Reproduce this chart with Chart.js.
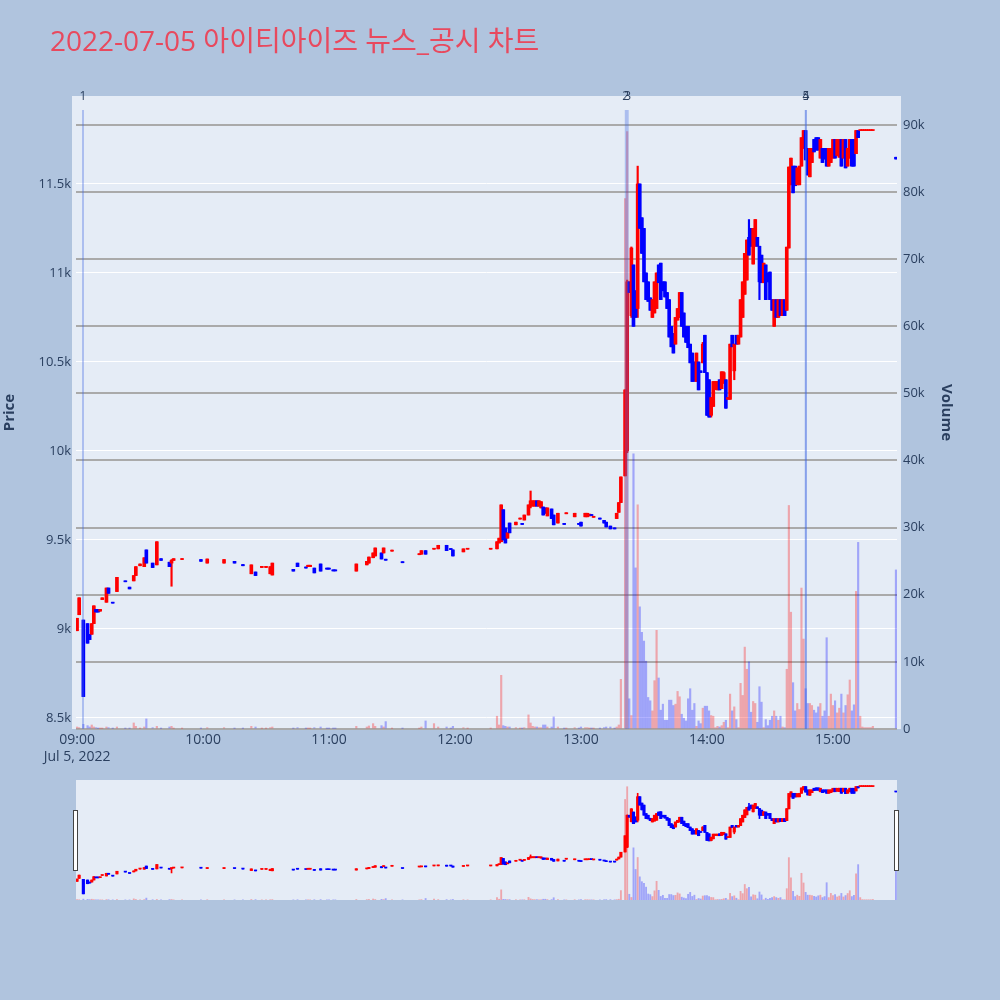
<!DOCTYPE html>
<html>
<head>
<meta charset="utf-8">
<script src="https://cdn.jsdelivr.net/npm/chart.js@4.4.1/dist/chart.umd.min.js"></script>
<style>
  body { margin: 0; background: #b0c4de; }
  #wrap { position: relative; width: 1000px; height: 1000px; }
  #main { position: absolute; left: 0; top: 0; }
  #slider { position: absolute; left: 0; top: 780px; }
</style>
</head>
<body>
<div id="wrap">
  <canvas id="main" width="1000" height="770"></canvas>
  <canvas id="slider" width="1000" height="120"></canvas>
</div>
<script>
// 1-minute candles, minutes counted from 09:00
const minutes = [
  0,1,3,5,6,7,8,9,10,11,12,14,15,17,19,23,25,27,28,30,
  32,33,36,38,40,44,45,46,50,59,62,70,75,79,83,85,88,90,92,93,
  103,105,109,110,111,113,116,119,120,122,123,133,138,139,141,142,145,146,147,150,
  155,163,164,166,170,172,176,178,179,184,186,197,200,201,202,203,204,205,206,209,
  211,212,213,215,216,217,218,219,220,221,222,223,224,226,227,229,232,233,237,239,
  240,242,243,244,245,246,249,251,252,254,256,257,258,259,261,262,263,264,265,266,
  267,268,269,270,271,272,273,274,275,276,277,278,279,280,281,282,283,284,285,286,
  287,288,289,290,291,292,293,294,295,296,297,298,299,300,301,302,303,304,305,306,
  307,308,309,310,311,312,313,314,315,316,317,318,319,320,321,322,323,324,325,326,
  327,328,329,330,331,332,333,334,335,336,337,338,339,340,341,342,343,344,345,346,
  347,348,349,350,351,352,353,354,355,356,357,358,359,360,361,362,363,364,365,366,
  367,368,369,370,371,372,373,374,375,376,377,378,379,
  390
];
const opens = [
  8990,9080,9050,9030,8970,8970,9030,9110,9110,9100,9165,9150,9230,9150,9210,9270,9235,9270,9300,9355,
  9350,9444,9370,9360,9395,9375,9370,9385,9390,9390,9370,9370,9380,9362,9310,9320,9345,9345,9310,9303,
  9335,9370,9348,9350,9350,9342,9365,9342,9342,9332,9332,9325,9360,9370,9400,9410,9427,9427,9392,9437,
  9378,9417,9420,9440,9448,9450,9470,9452,9444,9433,9448,9448,9450,9483,9490,9670,9567,9510,9595,9585,
  9617,9593,9612,9640,9690,9690,9690,9720,9690,9680,9685,9680,9635,9674,9640,9595,9593,9647,9630,9593,
  9600,9630,9630,9635,9643,9627,9623,9610,9600,9578,9568,9620,9655,9710,9860,10000,10950,10760,11045,10900,
  10800,11500,11310,11250,11000,10950,10860,10750,10775,10800,11045,11055,10950,10950,10890,10850,10700,10660,10600,10735,
  10750,10890,10775,10700,10700,10600,10550,10500,10390,10500,10450,10495,10650,10440,10400,10200,10250,10345,10343,10400,
  10350,10380,10400,10290,10290,10650,10450,10650,10600,10640,10750,10880,10960,11200,11250,11050,11150,11200,11150,11100,
  10945,11045,11000,11005,10850,10700,10850,10750,10850,10760,10850,10790,11140,11495,11600,11600,11495,11495,11600,11700,
  11800,11700,11540,11620,11750,11760,11760,11645,11700,11700,11700,11600,11620,11645,11750,11660,11650,11750,11645,11750,
  11600,11645,11750,11750,11670,11800,11800,11800,11800,11800,11800,11800,11800,
  11650
];
const highs = [
  9060,9175,9050,9030,8970,9030,9130,9110,9110,9110,9175,9230,9230,9150,9290,9270,9235,9300,9350,9365,
  9400,9444,9370,9490,9395,9375,9390,9395,9395,9390,9393,9390,9380,9362,9360,9320,9352,9352,9350,9370,
  9335,9370,9348,9358,9358,9342,9365,9342,9342,9332,9332,9365,9380,9404,9427,9455,9427,9455,9392,9443,
  9378,9423,9440,9440,9453,9470,9470,9452,9444,9450,9452,9452,9490,9510,9697,9670,9567,9540,9595,9600,
  9623,9593,9640,9697,9775,9720,9720,9720,9720,9715,9685,9680,9680,9674,9640,9650,9593,9653,9650,9593,
  9600,9650,9650,9645,9643,9633,9623,9610,9600,9578,9568,9650,9710,9854,10343,10960,10950,11146,11045,10900,
  11600,11500,11310,11250,11000,10950,10860,10850,10950,11000,11045,11055,10950,10950,10890,10850,10700,10660,10750,10800,
  10890,10890,10775,10700,10700,10600,10550,10500,10550,10500,10450,10610,10650,10440,10400,10300,10390,10390,10390,10400,
  10445,10445,10400,10300,10600,10650,10600,10650,10650,10850,10950,11110,11185,11300,11250,11250,11300,11200,11150,11100,
  11055,11045,11000,11005,10850,10850,10850,10850,10850,10850,10850,11145,11595,11645,11600,11600,11590,11600,11760,11800,
  11800,11700,11700,11700,11750,11760,11760,11750,11700,11700,11700,11700,11700,11750,11750,11750,11750,11750,11750,11750,
  11700,11750,11750,11750,11800,11800,11800,11800,11800,11800,11800,11800,11800,
  11650
];
const lows = [
  8990,9080,8620,8920,8940,8970,9030,9095,9095,9100,9165,9150,9200,9145,9210,9265,9225,9270,9300,9355,
  9350,9370,9345,9360,9385,9350,9240,9385,9390,9380,9370,9370,9370,9355,9310,9300,9345,9345,9310,9303,
  9325,9350,9342,9350,9350,9315,9325,9336,9336,9326,9326,9325,9360,9370,9400,9410,9393,9427,9386,9437,
  9372,9417,9420,9420,9448,9450,9440,9446,9410,9433,9448,9448,9450,9483,9490,9500,9483,9510,9540,9585,
  9617,9587,9612,9640,9680,9690,9690,9690,9690,9680,9640,9650,9635,9620,9585,9595,9587,9647,9630,9587,
  9578,9630,9630,9635,9637,9627,9617,9595,9573,9562,9562,9620,9655,9710,9860,9990,10890,10750,10700,10750,
  10750,11250,11110,10950,10850,10840,10790,10750,10775,10800,10945,10850,10900,10865,10800,10640,10585,10550,10600,10735,
  10750,10700,10640,10610,10580,10495,10390,10390,10390,10343,10440,10495,10440,10200,10190,10190,10250,10345,10343,10343,
  10350,10380,10240,10290,10290,10585,10400,10600,10600,10640,10750,10880,10960,11100,11150,11050,11150,11150,10850,10945,
  10945,10850,10950,10850,10790,10700,10750,10750,10760,10760,10760,10790,11140,11495,11450,11490,11495,11495,11600,11700,
  11635,11550,11540,11620,11680,11690,11690,11645,11620,11640,11600,11600,11620,11645,11645,11660,11650,11600,11645,11590,
  11600,11645,11600,11600,11670,11760,11800,11800,11800,11800,11800,11800,11800,
  11640
];
const closes = [
  9060,9175,8620,8920,8940,9030,9130,9095,9095,9110,9175,9230,9200,9145,9290,9265,9225,9300,9350,9365,
  9400,9370,9345,9490,9385,9350,9385,9395,9395,9380,9393,9390,9370,9355,9360,9300,9352,9352,9350,9370,
  9325,9350,9342,9358,9358,9315,9325,9336,9336,9326,9326,9365,9380,9404,9427,9455,9393,9455,9386,9443,
  9372,9423,9440,9420,9453,9470,9440,9446,9410,9450,9452,9452,9490,9510,9697,9500,9483,9540,9540,9600,
  9623,9587,9640,9697,9720,9720,9720,9690,9720,9715,9640,9650,9680,9620,9585,9650,9587,9653,9650,9587,
  9578,9650,9650,9645,9637,9633,9617,9595,9573,9562,9562,9650,9710,9854,10343,10950,10890,11140,10700,10750,
  11500,11250,11110,10950,10850,10840,10790,10850,10950,11000,10945,10850,10900,10865,10800,10640,10585,10550,10750,10800,
  10890,10700,10640,10610,10580,10495,10390,10400,10550,10343,10440,10600,10440,10200,10190,10300,10390,10390,10390,10343,
  10445,10440,10240,10300,10600,10585,10600,10600,10650,10850,10950,11110,11185,11100,11150,11250,11300,11150,10950,10945,
  11055,10850,10950,10850,10790,10850,10750,10850,10760,10850,10760,11145,11595,11645,11450,11490,11590,11600,11760,11800,
  11635,11550,11700,11700,11680,11690,11690,11750,11620,11640,11600,11700,11700,11750,11645,11750,11750,11600,11750,11590,
  11700,11750,11600,11600,11800,11760,11800,11800,11800,11800,11800,11800,11800,
  11640
];
const volumes = [
  300,200,700,500,300,600,300,200,100,100,100,300,200,100,300,100,100,900,400,100,
  300,1500,200,400,100,300,400,100,100,100,200,200,100,100,400,300,100,100,200,300,
  100,200,100,100,100,200,300,100,100,100,100,400,300,450,800,400,500,300,1100,100,
  100,100,300,1200,800,300,300,100,400,200,100,100,1900,600,8000,500,400,300,300,200,
  100,100,200,2100,900,400,300,300,200,200,600,600,300,300,1800,300,100,100,200,100,
  300,200,200,100,100,100,100,200,300,300,100,300,600,7400,79000,89000,4500,2000,41000,24000,
  33400,18200,14400,13100,10100,4700,4200,2700,7200,14700,7600,2800,3700,1300,1300,4300,4300,3500,3700,5600,
  4800,2200,1600,1200,4500,6000,2800,3800,400,1200,800,3100,3400,3400,2700,2000,1900,200,400,300,
  500,1000,1300,200,5200,2700,3300,1400,200,6800,5000,12200,8900,10000,2500,4100,3800,1000,6300,4000,
  200,1400,500,1300,1900,2700,1900,1300,1900,300,200,8900,33300,17400,6900,2700,3800,2900,21000,13400,
  6000,3800,3800,3500,2800,2400,3300,3800,1900,2700,13600,1900,5200,3500,4200,2400,3100,5200,2400,3500,
  5100,7300,2700,3600,20500,27800,1900,300,200,200,200,200,400,
  23700
];

// news / disclosure markers
const newsLabels = ['1', '2', '3', '4', '5'];
const newsTimes = ['09:02:50', '13:21:20', '13:22:15', '14:47:05', '14:47:05'];

const hourTicks = [0, 60, 120, 180, 240, 300, 360];
const hourLabels = ['09:00', '10:00', '11:00', '12:00', '13:00', '14:00', '15:00'];
const dateLabel = 'Jul 5, 2022';
const priceTicks = [8500, 9000, 9500, 10000, 10500, 11000, 11500];
const priceTickLabels = ['8.5k', '9k', '9.5k', '10k', '10.5k', '11k', '11.5k'];
const volTicks = [0, 10000, 20000, 30000, 40000, 50000, 60000, 70000, 80000, 90000];
const volTickLabels = ['0', '10k', '20k', '30k', '40k', '50k', '60k', '70k', '80k', '90k'];

const titleText = '2022-07-05 아이티아이즈 뉴스_공시 차트';

const FONT = '"Open Sans", "Noto Sans CJK KR", sans-serif';
const INK = '#2a3f5f';
const X_MIN = -0.5, X_MAX = 390.5;
const P_MIN = 8438, P_MAX = 11994;
const V_MAX = 94300;

const toMinute = t => {
  const [h, m, s] = t.split(':').map(Number);
  return (h - 9) * 60 + m + s / 60;
};

const isUp = i => closes[i] >= opens[i];

function candleDatasets(bodyW, wickW, volW, minBody) {
  const candleColors = minutes.map((m, i) => isUp(i) ? '#ff0000' : '#0000ff');
  const volColors = minutes.map((m, i) => isUp(i) ? 'rgba(255,0,0,0.3)' : 'rgba(0,0,255,0.3)');
  return [
    {
      data: minutes.map((m, i) => ({ x: m, y: [opens[i], closes[i]] })),
      backgroundColor: candleColors, barThickness: bodyW, minBarLength: minBody,
      grouped: false, order: 1, yAxisID: 'y'
    },
    {
      data: minutes.map((m, i) => ({ x: m, y: [lows[i], highs[i]] })),
      backgroundColor: candleColors, barThickness: wickW,
      grouped: false, order: 2, yAxisID: 'y'
    },
    {
      data: minutes.map((m, i) => ({ x: m, y: volumes[i] })),
      backgroundColor: volColors, barThickness: volW,
      grouped: false, order: 3, yAxisID: 'y2'
    }
  ];
}

const plotBg = {
  id: 'plotBg',
  beforeDraw(chart, args, opts) {
    const { ctx, chartArea: a } = chart;
    ctx.save();
    ctx.fillStyle = '#e5ecf6';
    ctx.fillRect(a.left - opts.extra, a.top, a.right - a.left + 2 * opts.extra, a.bottom - a.top);
    ctx.restore();
  }
};

const titlePlugin = {
  id: 'titlePlugin',
  afterDraw(chart) {
    const ctx = chart.ctx;
    ctx.save();
    ctx.font = '28px ' + FONT;
    ctx.fillStyle = '#e8495e';
    ctx.textAlign = 'left';
    ctx.textBaseline = 'middle';
    ctx.fillText(titleText, 50, 43);
    ctx.restore();
  }
};

const newsLines = {
  id: 'newsLines',
  afterDatasetsDraw(chart) {
    const { ctx, chartArea: a, scales } = chart;
    ctx.save();
    newsTimes.forEach((t, i) => {
      const x = scales.x.getPixelForValue(toMinute(t));
      ctx.strokeStyle = 'rgba(65,105,225,0.35)';
      ctx.lineWidth = 2;
      ctx.beginPath();
      ctx.moveTo(x, 110);
      ctx.lineTo(x, a.bottom);
      ctx.stroke();
      ctx.font = '12px ' + FONT;
      ctx.fillStyle = INK;
      ctx.textAlign = 'center';
      ctx.textBaseline = 'middle';
      ctx.fillText(newsLabels[i], x, 97);
    });
    ctx.restore();
  }
};

const sliderHandles = {
  id: 'sliderHandles',
  afterDraw(chart) {
    const { ctx, chartArea: a } = chart;
    ctx.save();
    ctx.fillStyle = '#ffffff';
    ctx.strokeStyle = '#444444';
    ctx.lineWidth = 1;
    [a.left - 2, a.right - 2].forEach(x => {
      ctx.fillRect(x - 0.5, 30.5, 4, 60);
      ctx.strokeRect(x - 0.5, 30.5, 4, 60);
    });
    ctx.restore();
  }
};

new Chart(document.getElementById('main'), {
  type: 'bar',
  data: { datasets: candleDatasets(3, 1.5, 1.5, 1) },
  options: {
    responsive: false,
    animation: false,
    events: [],
    layout: { padding: { left: 0, right: 44, top: 96, bottom: 0 } },
    plugins: {
      legend: { display: false },
      tooltip: { enabled: false },
      plotBg: { extra: 4 }
    },
    scales: {
      x: {
        type: 'linear', position: 'bottom', min: X_MIN, max: X_MAX, offset: false,
        grid: { display: false, drawTicks: false },
        border: { display: false },
        afterBuildTicks: s => { s.ticks = hourTicks.map(v => ({ value: v })); },
        afterFit: s => { s.height = 41; },
        ticks: {
          font: { family: FONT, size: 14, lineHeight: 1.2 }, color: INK, padding: 3,
          maxRotation: 0, autoSkip: false,
          callback: v => {
            const label = hourLabels[hourTicks.indexOf(v)];
            return v === hourTicks[0] ? [label, dateLabel] : label;
          }
        }
      },
      y: {
        type: 'linear', position: 'left', min: P_MIN, max: P_MAX,
        grid: { color: '#ffffff', lineWidth: 1, drawTicks: false },
        border: { display: false },
        afterBuildTicks: s => { s.ticks = priceTicks.map(v => ({ value: v })); },
        afterFit: s => { s.width = 76; },
        ticks: {
          font: { family: FONT, size: 13 }, color: INK, padding: 5,
          callback: v => priceTickLabels[priceTicks.indexOf(v)]
        },
        title: {
          display: true, text: 'Price', color: INK,
          font: { family: FONT, size: 15, weight: 'bold' }, padding: { top: 1, bottom: 0 }
        }
      },
      y2: {
        type: 'linear', position: 'right', min: 0, max: V_MAX,
        grid: { color: '#aaaaaa', lineWidth: 2, drawTicks: false },
        border: { display: false },
        afterBuildTicks: s => { s.ticks = volTicks.map(v => ({ value: v })); },
        afterFit: s => { s.width = 59; },
        ticks: {
          font: { family: FONT, size: 13 }, color: INK, padding: 6,
          callback: v => volTickLabels[volTicks.indexOf(v)]
        },
        title: {
          display: true, text: 'Volume', color: INK,
          font: { family: FONT, size: 15, weight: 'bold' }, padding: { top: 1, bottom: 0 }
        }
      }
    }
  },
  plugins: [plotBg, newsLines, titlePlugin]
});

// range slider below the main plot
new Chart(document.getElementById('slider'), {
  type: 'bar',
  data: { datasets: candleDatasets(2.5, 1, 1.2, 1) },
  options: {
    responsive: false,
    animation: false,
    events: [],
    layout: { padding: { left: 76, right: 103, top: 0, bottom: 0 } },
    plugins: {
      legend: { display: false },
      tooltip: { enabled: false },
      plotBg: { extra: 0 }
    },
    scales: {
      x: { type: 'linear', display: false, min: X_MIN, max: X_MAX, offset: false },
      y: { type: 'linear', display: false, min: P_MIN, max: P_MAX },
      y2: { type: 'linear', display: false, min: 0, max: V_MAX }
    }
  },
  plugins: [plotBg, sliderHandles]
});
</script>
</body>
</html>
